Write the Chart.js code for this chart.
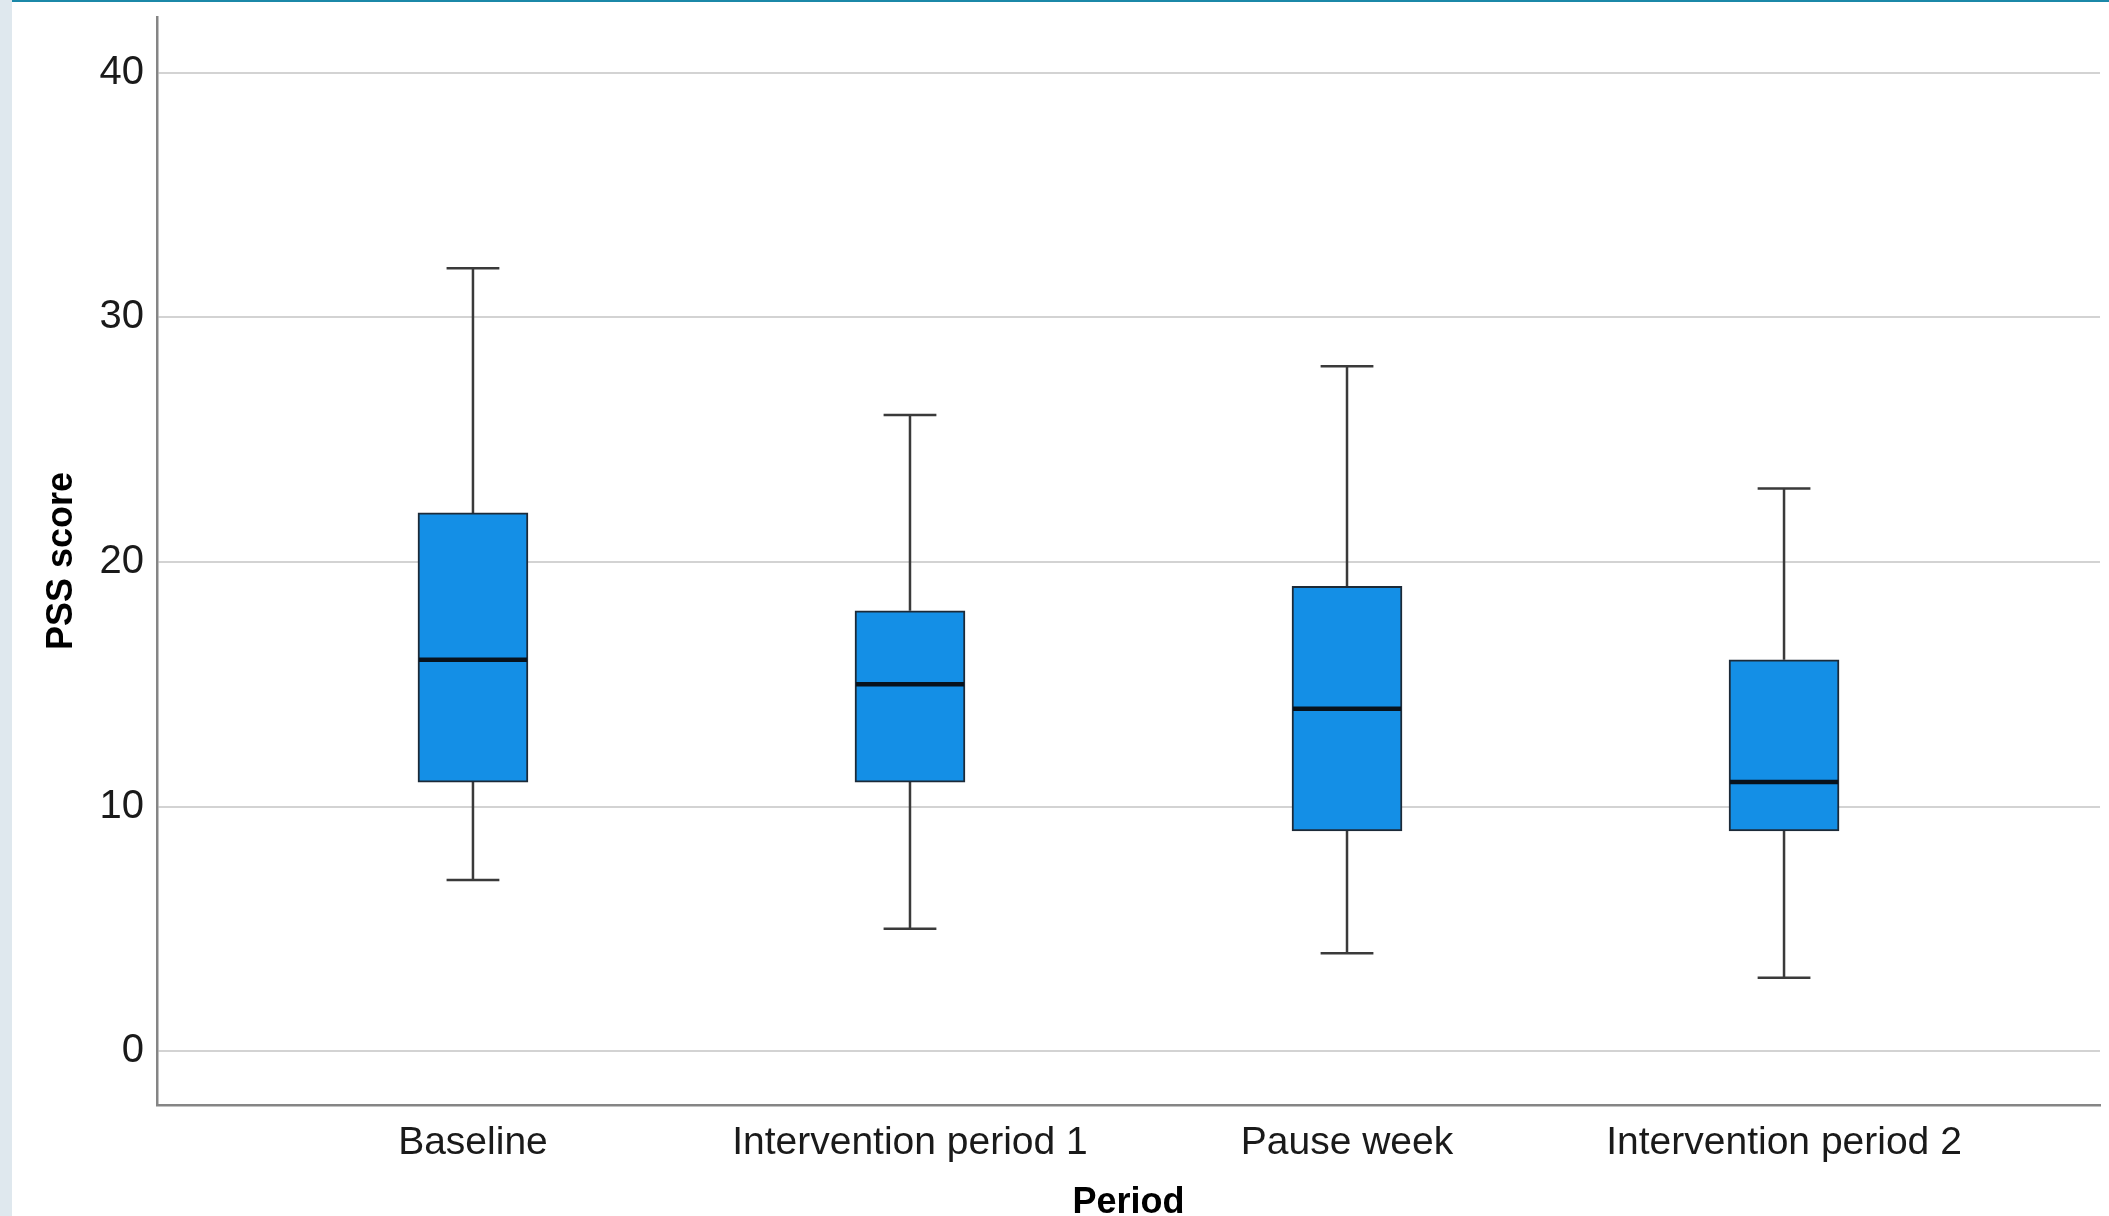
<!DOCTYPE html>
<html>
<head>
<meta charset="utf-8">
<script src="https://cdn.jsdelivr.net/npm/chart.js@4.4.1/dist/chart.umd.min.js"></script>
<style>
  html, body { margin: 0; padding: 0; background: #ffffff; overflow: hidden; }
  #wrap { position: absolute; left: 0; top: 0; width: 2109px; height: 1216px; }
  #strip { position: absolute; left: 0; top: 0; width: 12px; height: 1216px; background: #dfe8ee; z-index: 2; }
  #topline { position: absolute; left: 12px; top: 0; width: 2097px; height: 2px; background: #1b88a8; z-index: 2; }
</style>
</head>
<body>
<div id="wrap"><canvas id="c" width="2109" height="1216"></canvas></div>
<div id="strip"></div>
<div id="topline"></div>
<script>
// ---- data ----
const categories = ["Baseline", "Intervention period 1", "Pause week", "Intervention period 2"];
const whiskerLow  = [7, 5, 4, 3];
const q1          = [11, 11, 9, 9];
const median      = [16, 15, 14, 11];
const q3          = [22, 18, 19, 16];
const whiskerHigh = [32, 26, 28, 23];
const yTicks      = [0, 10, 20, 30, 40];
const xAxisTitle  = "Period";
const yAxisTitle  = "PSS score";

const FONT = "'Liberation Sans', Arial, sans-serif";
const BOX_W = 110;

const boxData = categories.map((c, i) => ({ x: i, y: [q1[i], q3[i]] }));

const boxPlugin = {
  id: 'boxWhiskers',
  beforeDatasetsDraw(chart) {
    const { ctx, scales: { x, y } } = chart;
    ctx.save();
    ctx.strokeStyle = '#3a3a3a';
    ctx.lineWidth = 2.5;
    const capHalf = BOX_W * 0.24;
    categories.forEach((c, i) => {
      const px = x.getPixelForValue(i);
      const yLo = y.getPixelForValue(whiskerLow[i]);
      const yQ1 = y.getPixelForValue(q1[i]);
      const yQ3 = y.getPixelForValue(q3[i]);
      const yHi = y.getPixelForValue(whiskerHigh[i]);
      ctx.beginPath();
      ctx.moveTo(px, yLo); ctx.lineTo(px, yQ1);
      ctx.moveTo(px, yQ3); ctx.lineTo(px, yHi);
      ctx.moveTo(px - capHalf, yLo); ctx.lineTo(px + capHalf, yLo);
      ctx.moveTo(px - capHalf, yHi); ctx.lineTo(px + capHalf, yHi);
      ctx.stroke();
    });
    ctx.restore();
  },
  afterDatasetsDraw(chart) {
    const { ctx, scales: { x, y } } = chart;
    ctx.save();
    ctx.strokeStyle = '#08121c';
    ctx.lineWidth = 4.5;
    categories.forEach((c, i) => {
      const px = x.getPixelForValue(i);
      const ym = y.getPixelForValue(median[i]);
      ctx.beginPath();
      ctx.moveTo(px - BOX_W / 2 + 1, ym);
      ctx.lineTo(px + BOX_W / 2 - 1, ym);
      ctx.stroke();
    });
    ctx.restore();
  }
};

const bgPlugin = {
  id: 'bg',
  beforeDraw(chart) {
    const ctx = chart.ctx;
    ctx.save();
    ctx.fillStyle = '#ffffff';
    ctx.fillRect(0, 0, chart.width, chart.height);
    ctx.restore();
  }
};

new Chart(document.getElementById('c'), {
  type: 'bar',
  data: {
    datasets: [{
      data: boxData,
      backgroundColor: '#148fe6',
      borderColor: '#1c2a38',
      borderWidth: 2,
      borderSkipped: false,
      barThickness: BOX_W
    }]
  },
  options: {
    responsive: false,
    animation: false,
    devicePixelRatio: 1,
    layout: { padding: { top: 17, right: 9, left: 20, bottom: 0 } },
    plugins: { legend: { display: false }, tooltip: { enabled: false } },
    scales: {
      x: {
        type: 'linear',
        offset: false,
        min: -0.723,
        max: 3.723,
        afterBuildTicks(scale) { scale.ticks = categories.map((c, i) => ({ value: i })); },
        afterFit(scale) { scale.height = 111; scale.paddingLeft = 0; scale.paddingRight = 0; },
        ticks: {
          callback: (v) => categories[v],
          color: '#1a1a1a',
          font: { family: FONT, size: 39 },
          padding: 15,
          maxRotation: 0,
          autoSkip: false
        },
        grid: { display: false, drawTicks: false, offset: false },
        border: { display: true, color: '#858585', width: 2.5 },
        title: {
          display: true,
          text: xAxisTitle,
          color: '#000000',
          font: { family: FONT, size: 36, weight: 'bold' },
          padding: { top: 0, bottom: -9 }
        }
      },
      y: {
        min: -2.2,
        max: 42.27,
        afterBuildTicks(scale) { scale.ticks = yTicks.map(v => ({ value: v })); },
        afterFit(scale) { scale.width = 137; scale.paddingTop = 0; scale.paddingBottom = 0; },
        ticks: {
          color: '#1a1a1a',
          font: { family: FONT, size: 40 },
          padding: 13
        },
        grid: { color: '#d3d3d3', lineWidth: 2, drawTicks: false },
        border: { display: true, color: '#858585', width: 2.5 },
        title: {
          display: true,
          text: yAxisTitle,
          color: '#000000',
          font: { family: FONT, size: 36, weight: 'bold' },
          padding: { top: 20, bottom: 0 }
        }
      }
    }
  },
  plugins: [bgPlugin, boxPlugin]
});
</script>
</body>
</html>
